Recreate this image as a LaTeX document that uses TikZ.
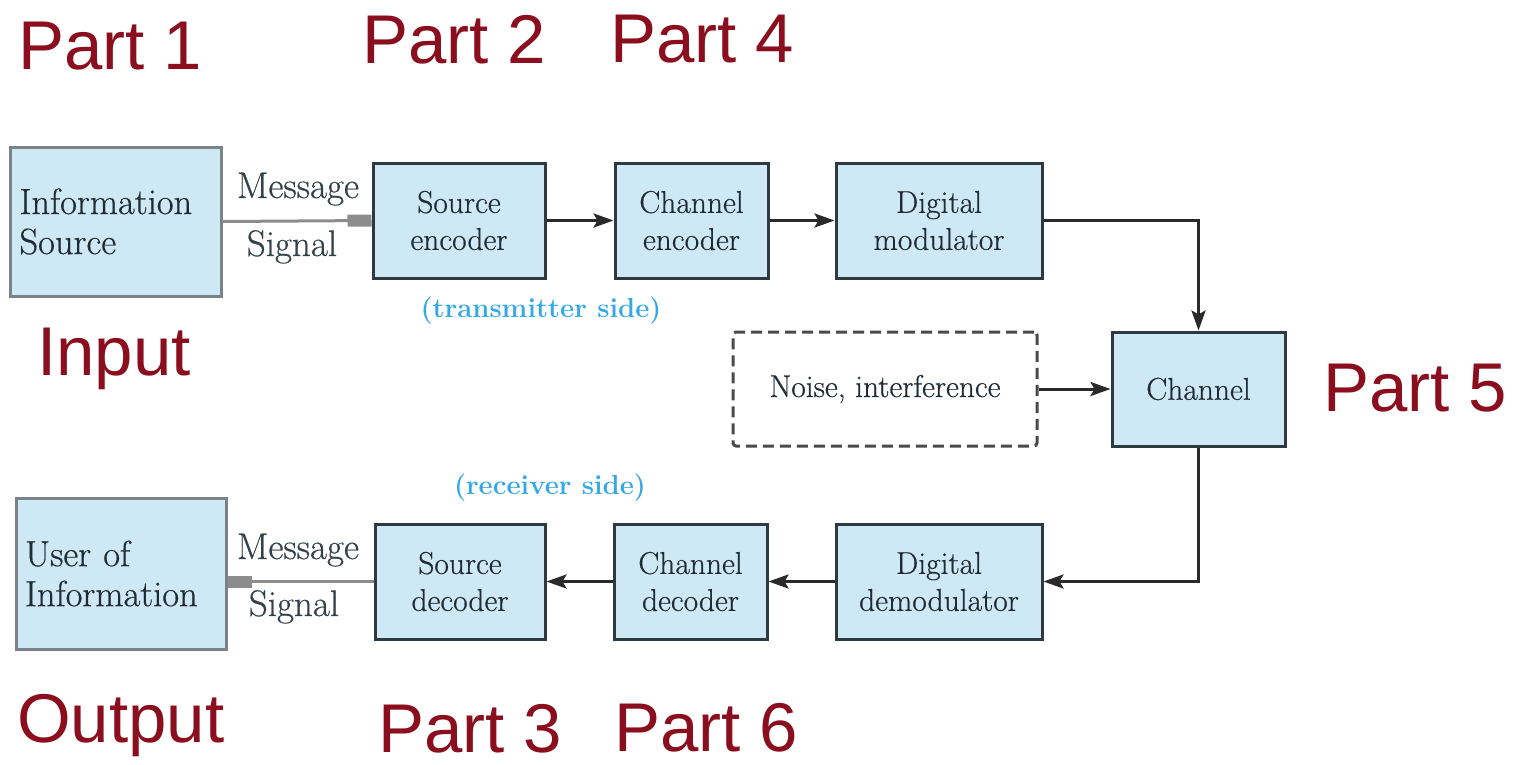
\documentclass[tikz,border=0pt]{standalone}
\usepackage{fontspec}
\newfontfamily\partfont{Liberation Sans}
\newfontfamily\boxfont[FakeBold=0.5]{Latin Modern Roman}
\usetikzlibrary{arrows.meta}
\definecolor{boxfill}{HTML}{CFE8F6}
\definecolor{boxline}{HTML}{2E3A40}
\definecolor{outline}{HTML}{7A8388}
\definecolor{boxtext}{HTML}{1F2C34}
\definecolor{partred}{HTML}{8A0E1E}
\definecolor{sideblue}{HTML}{35A9E6}
\definecolor{msggray}{HTML}{8C8C8C}
\definecolor{arrowc}{HTML}{2A2A2A}
\tikzset{
  blk/.style={draw=boxline, line width=3pt, fill=boxfill, inner sep=0pt, align=center,
    text=boxtext, font=\boxfont\fontsize{31.5}{37}\selectfont, minimum height=115pt},
  outer/.style={draw=outline, line width=3pt, fill=boxfill, inner sep=0pt, align=left,
    text=boxtext, font=\boxfont\fontsize{36.5}{40}\selectfont, text width=192pt},
  noisebox/.style={draw=arrowc!85, line width=3pt, dash pattern=on 11pt off 6pt,
    rounded corners=3pt, inner sep=0pt, text=boxtext, font=\boxfont\fontsize{31.5}{37}\selectfont,
    minimum width=304pt, minimum height=114pt},
  flow/.style={draw=arrowc, line width=3pt, -{Stealth[length=20pt,width=14pt,inset=4pt]}},
  msg/.style={draw=msggray, line width=3pt, -{Rectangle[length=24pt,width=12pt]}},
  msglabel/.style={text=boxtext!90, font=\boxfont\fontsize{37}{40}\selectfont, inner sep=0pt, anchor=base},
  side/.style={text=sideblue, font=\bfseries\fontsize{27.5}{30}\selectfont, inner sep=0pt},
  part/.style={text=partred, font=\partfont\fontsize{69}{80}\selectfont, inner sep=0pt, anchor=base west},
}
\begin{document}
\begin{tikzpicture}[x=1pt,y=-1pt]
\useasboundingbox[fill=white] (0,0) rectangle (1522,764);

% top row
\node[outer, minimum width=211pt, minimum height=149pt] (info) at (115.5,221.5) {Information\\Source};
\node[blk, minimum width=172pt] (se) at (459,220.5) {Source\\encoder};
\node[blk, minimum width=153pt] (ce) at (691.5,220.5) {Channel\\encoder};
\node[blk, minimum width=206pt] (dm) at (939,220.5) {Digital\\modulator};

% middle
\node[blk, minimum width=173pt, minimum height=114pt] (ch) at (1198.5,389) {Channel};
\node[noisebox] (nz) at (885,389) {Noise, interference};

% bottom row
\node[outer, minimum width=210pt, minimum height=151pt] (user) at (121,573.5) {User of\\Information};
\node[blk, minimum width=170pt] (sd) at (460,581.5) {Source\\decoder};
\node[blk, minimum width=153pt] (cd) at (690.5,581.5) {Channel\\decoder};
\node[blk, minimum width=206pt] (dd) at (939,581.5) {Digital\\demodulator};

% connectors
\draw[msg] (info.east) -- (se.west);
\draw[flow] (se) -- (ce);
\draw[flow] (ce) -- (dm);
\draw[flow] (dm.east) -| (ch.north);
\draw[flow] (nz.east) -- (ch.west);
\draw[flow] (ch.south) |- (dd.east);
\draw[flow] (dd) -- (cd);
\draw[flow] (cd) -- (sd);
\draw[msg] (sd.west) -- (sd.west -| user.east);

% message labels
\node[msglabel] (m1) at (298,198) {Message};
\node[msglabel] (s1) at (292,256) {Signal};
\node[msglabel] (m2) at (298,559) {Message};
\node[msglabel] (s2) at (294,616) {Signal};

% side labels
\node[side] (tx) at (541,311) {(transmitter side)};
\node[side] (rx) at (550,488) {(receiver side)};

% part labels
\node[part] (p1) at (18,69) {Part 1};
\node[part] (p2) at (362,63) {Part 2};
\node[part] (p4) at (610,62) {Part 4};
\node[part] (in) at (37,375) {Input};
\node[part] (p5) at (1323,411) {Part 5};
\node[part] (out) at (17,742) {Output};
\node[part] (p3) at (378,752) {Part 3};
\node[part] (p6) at (614,751) {Part 6};
\end{tikzpicture}
\end{document}
